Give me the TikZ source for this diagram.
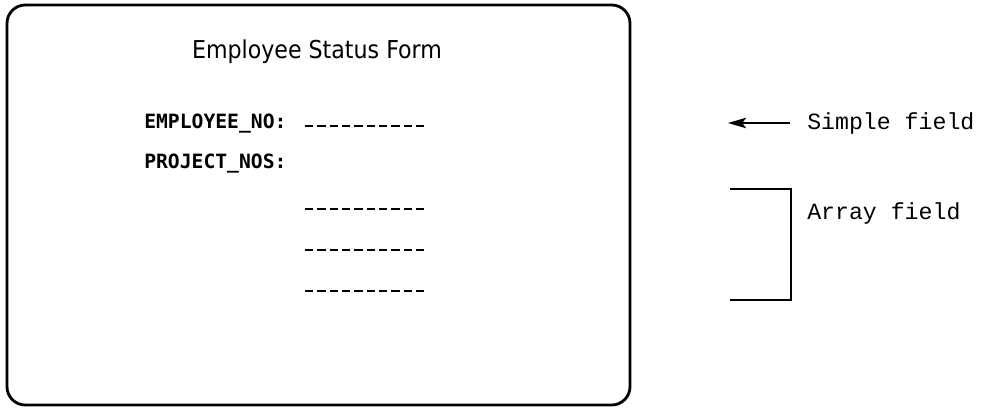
\documentclass[tikz,border=0pt]{standalone}
\usepackage{fontspec}
\usepackage{tikz}
\usetikzlibrary{positioning,calc}
\usetikzlibrary{arrows.meta}
\newfontfamily\screenfont{DejaVu Sans Mono}
\newfontfamily\titlefont{DejaVu Sans Condensed}
\newfontfamily\notefont{Liberation Mono}
\tikzset{
  form/.style={draw=black,line width=2pt,rounded corners=13pt},
  blank/.style={draw=black,line width=1.8pt,dash pattern=on 5.95pt off 2.83pt},
  lbl/.style={anchor=base west,inner sep=0pt,font=\screenfont\bfseries\fontsize{14}{16}\selectfont},
  note/.style={anchor=base west,inner sep=0pt,font=\notefont\fontsize{16.5}{18}\selectfont},
  bracket/.style={draw=black,line width=1.1pt},
}
\begin{document}
\begin{tikzpicture}[x=0.025cm,y=-0.025cm]
\useasboundingbox (0,0) rectangle (982,408);
% the screen form
\draw[form] (7,5) rectangle (630,405);
\node[anchor=base,inner sep=0pt,font=\titlefont\fontsize{17.5}{20}\selectfont] (title) at (317,58) {Employee Status Form};
\node[lbl] (empno) at (144,128) {EMPLOYEE\_NO:};
\node[lbl] (projnos) at (144,168) {PROJECT\_NOS:};
\coordinate (b0a) at (305,126);
\coordinate (b0b) at (425,126);
\coordinate (b1a) at (305,209);
\coordinate (b1b) at (425,209);
\coordinate (b2a) at (305,250);
\coordinate (b2b) at (425,250);
\coordinate (b3a) at (305,291);
\coordinate (b3b) at (425,291);
\draw[blank] (b0a)--(b0b);
\draw[blank] (b1a)--(b1b);
\draw[blank] (b2a)--(b2b);
\draw[blank] (b3a)--(b3b);
% notes on the right
\node[note] (simple) at (807,129) {Simple field};
\coordinate (stip) at (728,123);
\coordinate (stail) at (790,123);
\draw[bracket,line width=1.3pt,-{Stealth[length=13pt,width=7.5pt,inset=3pt]}] (stail) -- (stip);
\node[note] (array) at (807,219) {Array field};
\coordinate (atop) at (730,189);
\coordinate (abot) at (730,300);
\draw[bracket] (atop) -| (791,300) -- (abot);
\end{tikzpicture}
\end{document}
